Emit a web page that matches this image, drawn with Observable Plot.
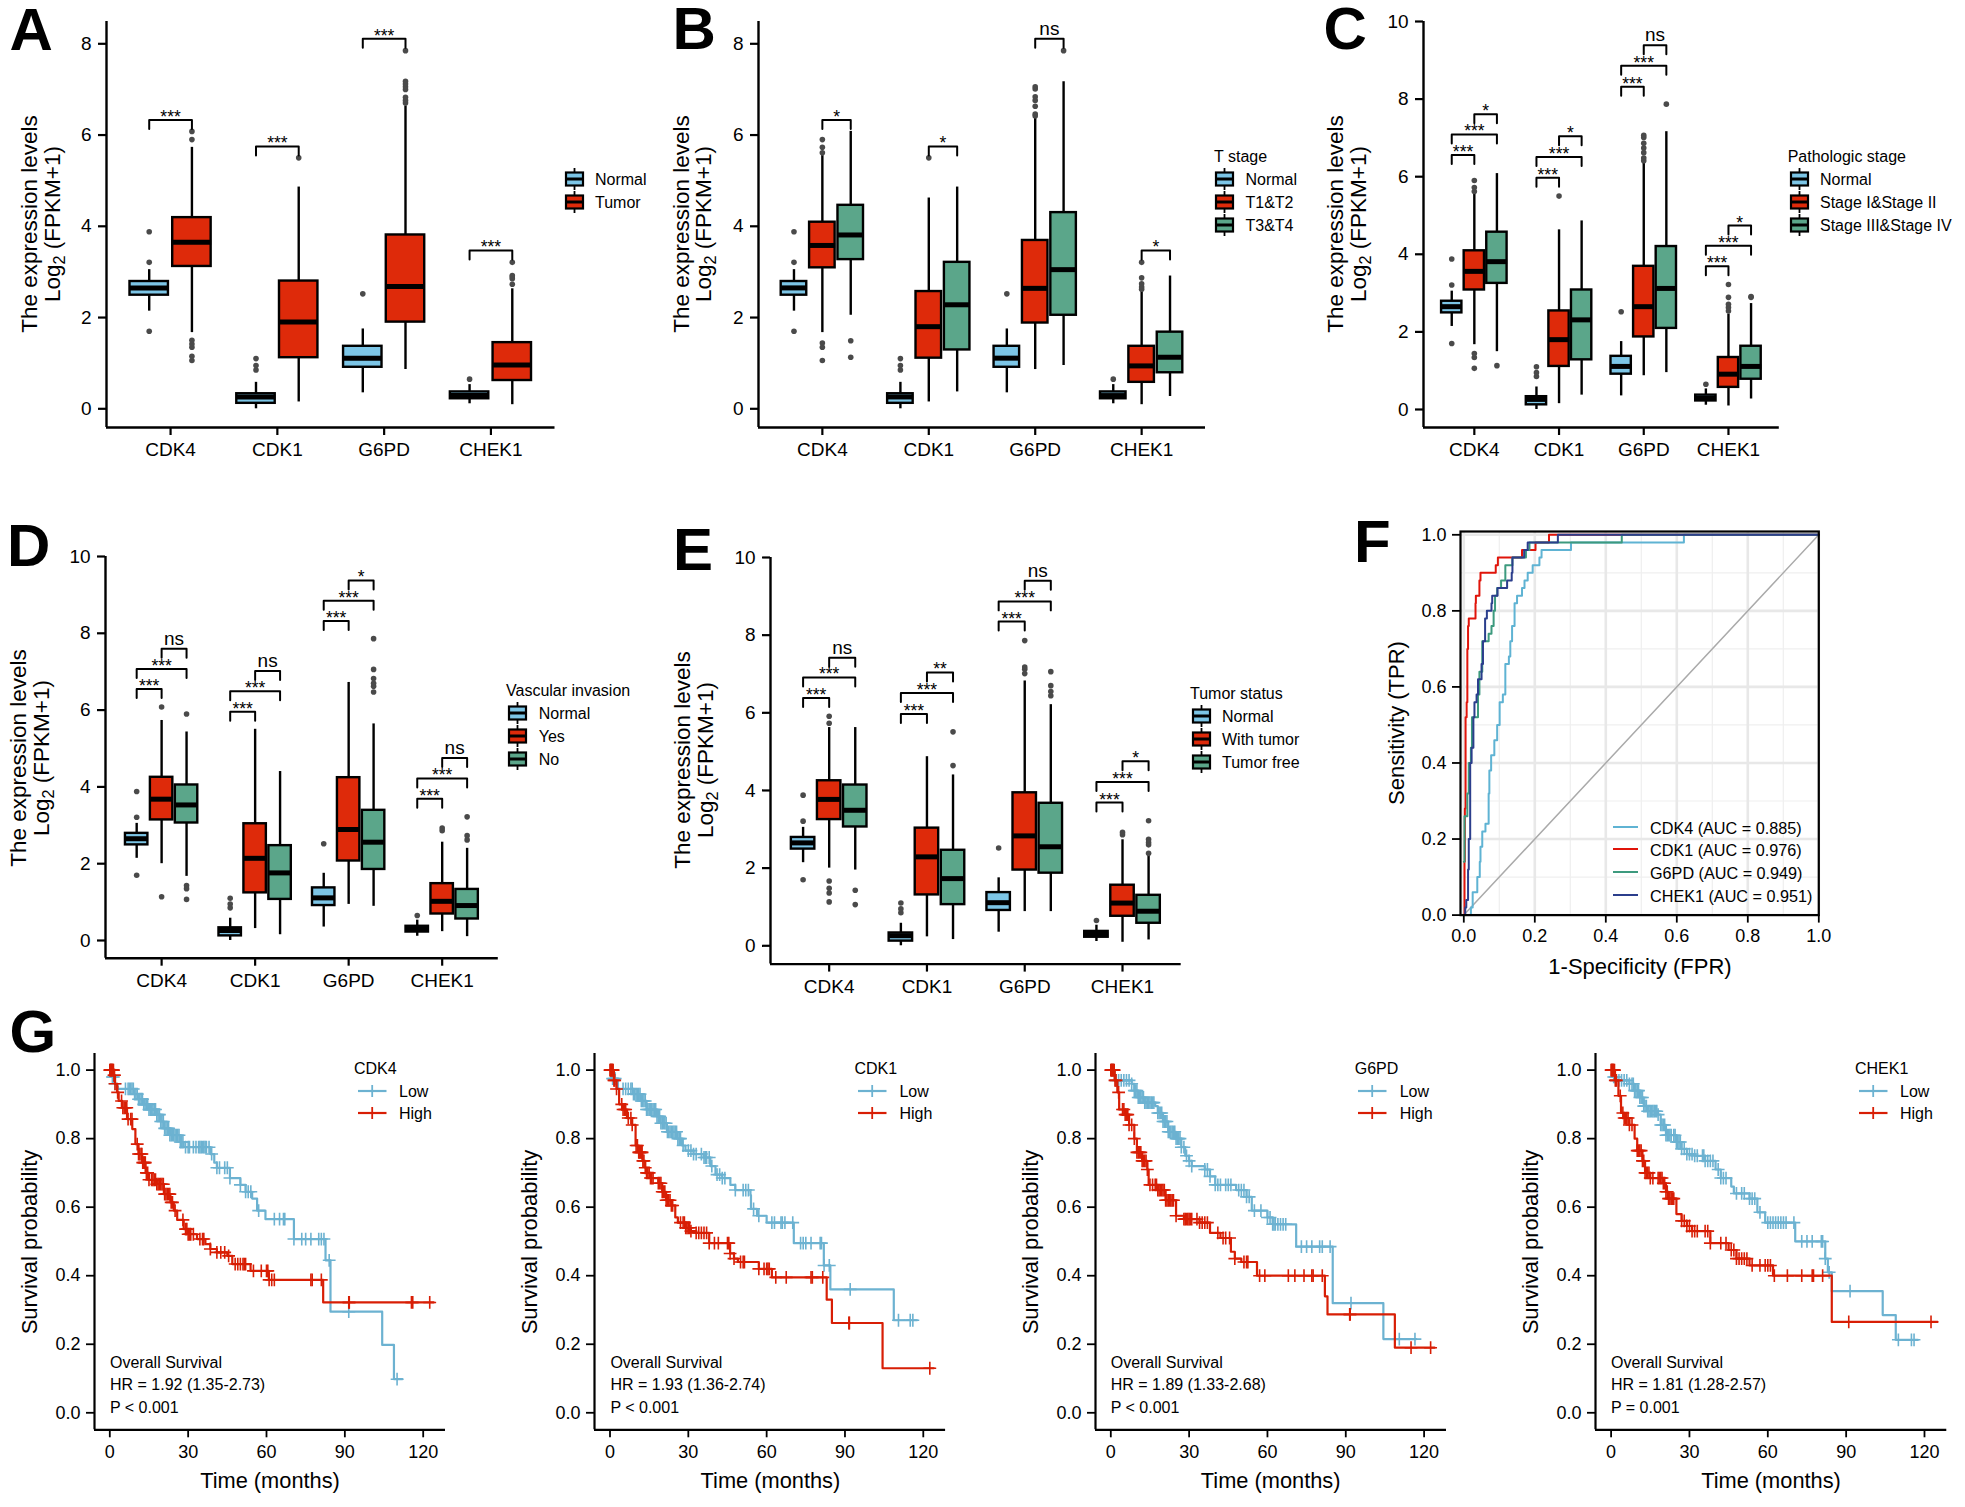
<!DOCTYPE html>
<html><head><meta charset="utf-8">
<style>
html,body{margin:0;padding:0;background:#fff;}
#page{position:relative;width:1965px;height:1507px;overflow:hidden;font-family:"Liberation Sans",Arial,sans-serif;color:#000;}
.t{position:absolute;white-space:nowrap;line-height:1;}
.abs{position:absolute;}
sub.s{font-size:.72em;vertical-align:baseline;position:relative;top:.3em;}
</style>
<script src="https://cdn.jsdelivr.net/npm/d3@7"></script>
<script src="https://cdn.jsdelivr.net/npm/@observablehq/plot@0.6"></script>
</head><body><div id="page"></div>
<script>
const genes=["CDK4","CDK1","G6PD","CHEK1"];
// box rows: [low whisker, q1, median, q3, high whisker], one row per gene
const boxNormal=[[2.14,2.49,2.65,2.79,3.05],[0,.12,.26,.33,.58],[.35,.91,1.11,1.37,1.75],[.11,.22,.29,.37,.53]];
const outNormal=[[1.70,3.21,3.88],[.85,.95,1.10],[2.52],[.65]];
// A
const boxTumor=[[1.67,3.12,3.65,4.19,5.73],[.15,1.12,1.90,2.80,4.86],[.86,1.90,2.68,3.81,6.63],[.09,.62,.96,1.45,2.63]];
const outTumor=[[1.06,1.15,1.35,1.42,1.5,5.90,6.08],[5.5],[6.7,6.76,6.83,7.0,7.06,7.12,7.18,7.85],[2.73,2.85,2.89,2.92,3.21]];
const brA=[[0,0,1,6.33,"***"],[1,0,1,5.75,"***"],[2,0,1,8.11,"***"],[3,0,1,3.47,"***"]];
// B
const boxT12=[[1.67,3.09,3.58,4.09,5.55],[.15,1.11,1.80,2.57,4.62],[.86,1.88,2.64,3.69,6.39],[.09,.58,.94,1.37,2.56]];
const outT12=[[1.06,1.35,1.44,5.61,5.73,5.90],[5.5],[6.42,6.46,6.63,6.76,6.84,7.01,7.06],[2.62,2.67,2.74,2.87,3.21]];
const boxT34=[[2.05,3.27,3.81,4.46,6.08],[.37,1.29,2.28,3.21,4.86],[.95,2.05,3.05,4.30,7.17],[.27,.79,1.13,1.68,2.91]];
const outT34=[[1.13,1.49],[],[7.85],[]];
const brB=[[0,1,2,6.33,"*"],[1,1,2,5.75,"*"],[2,1,2,8.11,"ns"],[3,1,2,3.47,"*"]];
// C
const boxS12=[[1.67,3.08,3.56,4.09,5.59],[.15,1.11,1.80,2.54,4.63],[.87,1.87,2.65,3.69,6.37],[.09,.57,.91,1.34,2.46]];
const outS12=[[1.06,1.34,1.44,5.62,5.72,5.90],[5.5],[6.41,6.48,6.62,6.74,6.86,7.01,7.07],[2.54,2.63,2.71,2.89,3.22]];
const boxS34=[[1.49,3.25,3.81,4.57,6.08],[.37,1.28,2.31,3.08,4.86],[.95,2.09,3.12,4.20,7.16],[.27,.78,1.11,1.63,2.73]];
const outS34=[[1.13],[],[7.87],[2.89,2.91]];
const brC=[[0,0,1,6.56,"***"],[0,0,2,7.09,"***"],[0,1,2,7.61,"*"],[1,0,1,5.97,"***"],[1,0,2,6.51,"***"],[1,1,2,7.04,"*"],[2,0,1,8.32,"***"],[2,0,2,8.86,"***"],[2,1,2,9.39,"ns"],[3,0,1,3.69,"***"],[3,0,2,4.22,"***"],[3,1,2,4.74,"*"]];
// D
const boxYes=[[2.0,3.14,3.68,4.25,5.73],[.31,1.24,2.14,3.04,5.50],[.94,2.07,2.89,4.24,6.72],[.23,.69,1.02,1.48,2.56]];
const outYes=[[1.14,6.08],[],[],[2.86,2.93]];
const boxNo=[[1.67,3.06,3.53,4.05,5.43],[.15,1.07,1.76,2.47,4.40],[.89,1.85,2.56,3.39,5.64],[.10,.56,.91,1.33,2.40]];
const outNo=[[1.07,1.35,1.43,5.90],[],[6.47,6.62,6.70,6.82,7.06,7.86],[2.62,2.73,3.22]];
const brD=[[0,0,1,6.55,"***"],[0,0,2,7.07,"***"],[0,1,2,7.60,"ns"],[1,0,1,5.96,"***"],[1,0,2,6.49,"***"],[1,1,2,7.02,"ns"],[2,0,1,8.32,"***"],[2,0,2,8.85,"***"],[2,1,2,9.375,"*"],[3,0,1,3.69,"***"],[3,0,2,4.22,"***"],[3,1,2,4.75,"ns"]];
// E
const boxWith=[[2.0,3.25,3.77,4.25,5.62],[.23,1.31,2.29,3.03,4.87],[.88,1.95,2.83,3.94,6.82],[.09,.76,1.10,1.56,2.73]];
const outWith=[[1.13,1.36,1.48,1.67,5.73,5.91],[],[7.01,7.12,7.18,7.86],[2.86,2.92]];
const boxFree=[[1.95,3.06,3.49,4.14,5.62],[.16,1.06,1.73,2.46,4.40],[.88,1.87,2.55,3.67,6.21],[.15,.58,.89,1.30,2.36]];
const outFree=[[1.06,1.43],[4.64,5.51],[6.44,6.55,6.70,7.06],[2.38,2.60,2.66,2.74,3.22]];
const brE=[[0,0,1,6.38,"***"],[0,0,2,6.91,"***"],[0,1,2,7.42,"ns"],[1,0,1,5.97,"***"],[1,0,2,6.51,"***"],[1,1,2,7.04,"**"],[2,0,1,8.35,"***"],[2,0,2,8.87,"***"],[2,1,2,9.40,"ns"],[3,0,1,3.69,"***"],[3,0,2,4.22,"***"],[3,1,2,4.75,"*"]];
// F: ROC curves, [FPR, TPR]
const rocCDK4=[[.014,0],[.02,.02],[.025,.06],[.038,.10],[.045,.14],[.047,.18],[.052,.22],[.061,.24],[.07,.32],[.072,.38],[.077,.42],[.086,.46],[.094,.50],[.101,.56],[.11,.58],[.117,.66],[.127,.68],[.131,.72],[.136,.76],[.143,.82],[.15,.84],[.164,.86],[.171,.88],[.18,.90],[.194,.92],[.213,.94],[.219,.96],[.302,.98],[.62,1],[1,1]];
const rocCDK1=[[0,0],[.002,.14],[.003,.28],[.005,.52],[.008,.56],[.01,.70],[.012,.76],[.014,.78],[.033,.82],[.034,.84],[.044,.88],[.047,.90],[.09,.92],[.096,.94],[.164,.96],[.202,.98],[.24,1],[1,1]];
const rocG6PD=[[0,.14],[.002,.26],[.01,.32],[.014,.40],[.02,.44],[.023,.52],[.04,.58],[.044,.64],[.052,.72],[.07,.74],[.078,.76],[.084,.80],[.088,.84],[.094,.86],[.105,.88],[.117,.92],[.137,.94],[.175,.96],[.185,.98],[.445,1],[1,1]];
const rocCHEK1=[[0,0],[.004,.02],[.007,.04],[.012,.12],[.014,.20],[.018,.40],[.022,.44],[.027,.52],[.03,.56],[.036,.58],[.04,.62],[.05,.66],[.054,.72],[.06,.78],[.065,.80],[.078,.82],[.08,.84],[.095,.86],[.122,.88],[.135,.90],[.137,.94],[.17,.96],[.18,.98],[.265,1],[1,1]];
const rocNames=["CDK4 (AUC = 0.885)","CDK1 (AUC = 0.976)","G6PD (AUC = 0.949)","CHEK1 (AUC = 0.951)"];
// G: survival steps [months, probability] and censoring times
const kmCDK4Low=[[0,1],[1,.98],[2,.96],[3,.945],[9.2,.93],[11,.915],[13,.90],[15,.885],[18,.87],[19.5,.85],[20.7,.83],[23,.81],[27,.79],[28.3,.775],[38.5,.755],[40,.73],[41,.715],[46,.685],[50,.665],[52,.645],[54.5,.625],[56.4,.59],[59.6,.565],[70.5,.507],[82.6,.445],[84.5,.295],[104.3,.198],[108.8,.098],[112,.098]];
const cenCDK4Low=[.3,.6,1,1.4,2,6,7,7.5,8,8.5,9,9.5,10,10.5,11,11.5,12,12.5,13,13.5,14,14.5,15,15.5,16,16.5,17,17.5,18,18.5,19,19.5,20,20.5,21,21.5,22,22.5,23,23.5,24,24.5,25,25.5,26,26.5,27,27.5,28,29,30,30.5,32,33,34,34.5,35,35.5,36,36.5,37,38,39,41,42,44,45,46,50,52,53,54,57,63,65,66.5,67,70.5,73.5,75,77,80,81,82,84,91.5,110];
const kmCDK4High=[[0,1],[1.5,.985],[2,.96],[2.8,.935],[3.4,.91],[4.7,.89],[6.6,.857],[8.6,.828],[9.8,.784],[11,.755],[12.4,.73],[13.7,.70],[15,.68],[18,.667],[20.7,.638],[23.2,.614],[24.5,.59],[25.8,.563],[28.3,.536],[30,.521],[33.4,.507],[36.6,.492],[38.5,.478],[41,.468],[45,.458],[46.9,.434],[53.9,.414],[60.9,.388],[81.7,.322],[124,.322]];
const cenCDK4High=[0,.2,.4,.6,.8,1,1.2,1.4,1.6,1.8,2,3,4.5,5,5.5,6,6.5,7,8,8.5,10.5,11,11.5,12,12.3,12.6,13,13.3,13.6,14,14.5,15,16,16.5,17,17.5,18,18.5,19,19.5,20,20.5,21,21.5,22,22.5,23,23.5,24,25,28,29,29.5,30,30.5,31,32,34.5,35.5,36,38.5,41,42.5,44,45.5,48,49,50,51,51.5,52,55,58,60,60.5,61,62,63,77,77.5,81,91.5,91.7,115.5,116,122.5];
const kmCDK1Low=[[0,1],[.5,.975],[3,.945],[9,.93],[11.6,.91],[14,.885],[18,.865],[19.3,.845],[21.8,.82],[25.7,.80],[27.6,.78],[28.9,.765],[32,.755],[35.9,.745],[38.4,.72],[40.4,.695],[43,.685],[46.1,.665],[48,.65],[53.8,.635],[54,.595],[56.3,.575],[60,.555],[70.4,.495],[81.9,.43],[84.4,.36],[108.7,.27],[117.6,.27]];
const cenCDK1Low=[.3,1,1.5,2,5,6,7,8,8.5,9,9.5,10,10.5,11,11.5,12,12.5,13,13.5,14,14.5,15,15.5,16,16.5,17,17.5,18,18.5,19,19.5,20,20.5,21,21.5,22,22.5,23,23.5,24,24.5,25,25.5,26,26.5,27,28,30,31,32,33,35,36,36.5,37,38,39,41,42,43,44,48,51,52,53,55,57,62,63,65.5,66,67,70,73,74,75,77,80.5,81,82,84,92,110.5,115,116];
const kmCDK1High=[[0,1],[1.5,.97],[2.5,.945],[3.5,.90],[5,.885],[6.5,.86],[8.5,.84],[9.8,.78],[11,.76],[12.4,.735],[13.5,.715],[14,.70],[15.5,.685],[18.5,.67],[20,.645],[21.5,.62],[23.5,.605],[25,.57],[26,.555],[29,.54],[31,.53],[33,.525],[38,.495],[46,.465],[47.5,.45],[49,.44],[57,.42],[62,.395],[83,.33],[85,.262],[104.4,.13],[124,.13]];
const cenCDK1High=[0,.2,.4,.6,.8,1,1.2,1.5,1.8,2.5,4.5,5,5.5,6,7,8,8.5,10,10.5,11,11.3,11.6,12,12.3,12.6,13,13.5,14,14.5,15,15.5,16,16.5,18.5,19,19.5,20,20.5,21,21.5,22,22.5,23,23.5,24,27,28,28.5,29,29.5,30,30.5,31,33,34,35,36,37,38,40,41.5,45,45.5,46,47.5,50,51,51.5,57,59,60,60.5,61,63.5,67.5,77,77.5,81.5,91.5,91.7,122.5];
const kmG6PDLow=[[0,1],[1.5,.97],[8,.96],[9,.94],[10.5,.92],[13,.905],[17,.895],[18,.875],[20,.85],[22,.82],[25,.80],[27,.775],[28.5,.75],[30,.735],[31,.72],[36,.71],[38,.69],[40,.665],[48,.65],[52,.63],[54,.59],[60,.57],[62,.55],[71,.485],[85,.32],[104.4,.215],[117,.215]];
const cenG6PDLow=[.3,1,2,3,4,5,6,7,8,9,9.5,10,10.5,11,11.5,12,12.5,13,13.5,14,14.5,15,15.5,16,16.5,18,18.5,19,19.5,20,20.5,21,21.5,22,22.5,23,23.5,24,24.5,25,25.5,26,26.5,27,28,29,30,31,36,37,38,40,41,42,44,45,46,49,50,51,52,53,55,57.5,60,61,62,62.5,63,64,65,66,67,73,75,77,80,81,84,92,110.5,116.5];
const kmG6PDHigh=[[0,1],[1.5,.97],[2.5,.935],[3.2,.885],[5.5,.87],[7,.84],[9,.80],[10,.76],[12,.735],[14,.71],[14.5,.665],[18,.65],[21,.62],[25,.575],[28,.565],[34,.555],[38,.525],[42,.51],[46,.47],[47.5,.45],[50,.44],[56,.40],[82,.34],[83,.287],[108.8,.19],[124,.19]];
const cenG6PDHigh=[0,.2,.4,.6,.8,1,1.3,1.6,2,3,4.5,5,5.5,6,6.5,7,8,9,10,10.5,11,11.5,12,12.5,13,13.5,14,15,16,17,17.5,18,18.5,19,19.5,20,20.5,21,21.5,22,22.5,23,23.5,24,25,28,28.5,29,29.5,30,30.5,31,33,34,35,36,37,41,43,44,45.5,47.5,51,52,52.5,57,59,68,70.5,74,77,77.5,81,91.5,91.7,115,122.5];
const kmCHEK1Low=[[0,1],[.5,.98],[2,.97],[7,.96],[9,.94],[11,.92],[12.5,.895],[14,.88],[18,.87],[19,.84],[21,.81],[25,.79],[27,.77],[29,.755],[32,.75],[36,.735],[40,.71],[42,.685],[46,.66],[47,.64],[53,.625],[56,.585],[59,.555],[70.5,.50],[82,.45],[83,.41],[84.5,.355],[104,.285],[109,.213],[117.5,.213]];
const cenCHEK1Low=[.3,1,1.5,2,3,4,5,6,7,8,8.5,9,9.5,10,10.5,11,11.5,12,12.5,13,13.5,14,14.5,15,15.5,16,16.5,17,17.5,18,19,19.5,20,20.5,21,21.5,22,22.5,23,24,24.5,25,25.5,26,26.5,27,28,29,30,31,32,33,35,35.5,36,37,38,39,41,42,43,44,48,50,51,53,54,55,57,60,61,62,63,64,65,66,67,70,73,75,77,80.5,81,82,83.5,91.5,110,115,116];
const kmCHEK1High=[[0,1],[1.5,.97],[2.8,.925],[3.8,.875],[5,.86],[7,.84],[9,.80],[10,.765],[12,.735],[13,.70],[15,.685],[20,.67],[21,.645],[22,.625],[25,.58],[27,.56],[29,.545],[31,.53],[38,.495],[45,.475],[48,.45],[53,.43],[62,.40],[84.5,.265],[125,.265]];
const cenCHEK1High=[0,.2,.4,.6,.8,1,1.3,1.6,2,3.5,4.5,5,5.5,6,6.5,7,8,10,10.5,11,11.5,12,12.5,13,13.5,14,14.5,15,16,18,18.5,19,19.5,20,20.5,21,21.5,22,22.5,23,23.5,24,27,28,29,30,31,32,33,36,37,38,42,44,46,47,48,49,50,51,52,54,57,59,60,61,62.5,67.5,73,77,77.5,81,91,122.5];

const FONT='"Liberation Sans",Arial,sans-serif';
const BLUE="#7cc5e6",RED="#de2a0a",GREEN="#5ba68a";
const KMB="#6cb2d1",KMR="#d81e05";
const page=document.getElementById("page");
function txt(html,x,y,size,opts={}){
  const d=document.createElement("div");d.className="t";d.innerHTML=html;
  d.style.left=x+"px";d.style.top=(y+1)+"px";d.style.fontSize=size+"px";
  if(opts.weight)d.style.fontWeight=opts.weight;
  d.style.transform=opts.rotate?"translate(-50%,-50%) rotate(-90deg)":(opts.center?"translate(-50%,-50%)":"translateY(-50%)");
  page.appendChild(d);return d;
}
function place(plot,left,top){const w=document.createElement("div");w.className="abs";w.style.left=left+"px";w.style.top=top+"px";w.appendChild(plot);page.appendChild(w);}
function letter(s,x,baseline){txt(s,x,baseline-1-.3465*60,60,{weight:"bold"});}
function svgKey(inner,x,y,w,h){const d=document.createElement("div");d.className="abs";d.style.left=x+"px";d.style.top=(y-h/2)+"px";d.innerHTML=`<svg width="${w}" height="${h}" style="display:block;overflow:visible">${inner}</svg>`;page.appendChild(d);}
function boxKey(color,x,y){svgKey(`<line x1="9.5" x2="9.5" y1="0" y2="22" stroke="#000" stroke-width="1.8"/><rect x="1" y="4.5" width="17" height="13" fill="${color}" stroke="#000" stroke-width="2.2"/><line x1="1" x2="18" y1="11" y2="11" stroke="#000" stroke-width="3"/>`,x,y,19,22);}
function kmKey(color,x,y){svgKey(`<line x1="0" x2="28.5" y1="6" y2="6" stroke="${color}" stroke-width="2.2"/><line x1="14.2" x2="14.2" y1="0" y2="12" stroke="${color}" stroke-width="1.8"/>`,x,y,29,12);}

const mL=75,mR=12,mT=12,mB=56;
function boxPanel(c){
  const ppu=(c.y0-c.yTopPx)/c.yTopVal;
  const dom=[-(c.B-c.y0)/ppu,(c.y0-c.T)/ppu];
  const n=c.boxes.length,step=.8/n,bw=.9*step;
  const cx=(g,j)=>g+(j-(n-1)/2)*step;
  const rows=[],outs=[];
  c.boxes.forEach((b,j)=>b.forEach((r,g)=>rows.push({x:cx(g,j),x1:cx(g,j)-bw/2,x2:cx(g,j)+bw/2,lo:r[0],q1:r[1],med:r[2],q3:r[3],hi:r[4],fill:c.colors[j]})));
  c.outs.forEach((o,j)=>o.forEach((v,g)=>v.forEach(y=>outs.push({x:cx(g,j),y}))));
  const tip=9/ppu, brLines=[],brLabels=[];
  c.br.forEach((b,i)=>{const a=cx(b[0],b[1]),e=cx(b[0],b[2]);
    [[a,b[3]-tip],[a,b[3]],[e,b[3]],[e,b[3]-tip]].forEach(p=>brLines.push({id:i,x:p[0],y:p[1]}));
    brLabels.push({x:(a+e)/2,y:b[3],label:b[4]});});
  const plot=Plot.plot({
    width:c.R-c.L+mL+mR,height:c.B-c.T+mT+mB,marginLeft:mL,marginRight:mR,marginTop:mT,marginBottom:mB,
    style:{fontFamily:FONT,fontSize:"19px",background:"transparent",overflow:"visible",maxWidth:"none",color:"#000"},
    x:{domain:[-.6,3.6]},y:{domain:dom},
    marks:[
      Plot.ruleX(rows,{x:"x",y1:"lo",y2:"hi",stroke:"#000",strokeWidth:2.4}),
      Plot.rect(rows,{x1:"x1",x2:"x2",y1:"q1",y2:"q3",fill:"fill",stroke:"#000",strokeWidth:2.4}),
      Plot.link(rows,{x1:"x1",x2:"x2",y1:"med",y2:"med",stroke:"#000",strokeWidth:5}),
      Plot.dot(outs,{x:"x",y:"y",r:2.8,fill:"#4a4a4a"}),
      Plot.line(brLines,{x:"x",y:"y",z:"id",stroke:"#000",strokeWidth:2,curve:"linear"}),
      Plot.text(brLabels.filter(d=>d.label!=="ns"),{x:"x",y:"y",text:"label",fontSize:17.5,lineAnchor:"bottom",dy:3}),
      Plot.text(brLabels.filter(d=>d.label==="ns"),{x:"x",y:"y",text:"label",fontSize:19,lineAnchor:"bottom",dy:-4}),
      Plot.ruleX([-.6],{strokeWidth:2.4}),
      Plot.ruleY([dom[0]],{strokeWidth:2.4}),
      Plot.axisY({ticks:c.ticks,tickSize:8,tickPadding:7,strokeWidth:2.2,tickFormat:d=>String(d),label:null}),
      Plot.axisX({ticks:[0,1,2,3],tickSize:8,tickPadding:7,strokeWidth:2.2,tickFormat:i=>genes[i],label:null})
    ]});
  place(plot,c.L-mL,c.T-mT);
  txt("The expression levels",c.tx1,c.ty,22.5,{rotate:true});
  txt('Log<sub class="s">2</sub> (FPKM+1)',c.tx2,c.ty,22.5,{rotate:true});
  if(c.title)txt(c.title,c.titleX,c.keysY[0]-23,16);
  c.names.forEach((nm,j)=>{boxKey(c.colors[j],c.keyX,c.keysY[j]);txt(nm,c.textX,c.keysY[j],16);});
}
const T8=[0,2,4,6,8],T10=[0,2,4,6,8,10];
boxPanel({L:106,R:554.5,T:21,B:427,y0:408.3,yTopPx:43.3,yTopVal:8,ticks:T8,boxes:[boxNormal,boxTumor],outs:[outNormal,outTumor],colors:[BLUE,RED],br:brA,tx1:30,tx2:53,ty:223,names:["Normal","Tumor"],keyX:565,keysY:[179,202],textX:595});
boxPanel({L:757.7,R:1204.7,T:21,B:427,y0:408.3,yTopPx:43.3,yTopVal:8,ticks:T8,boxes:[boxNormal,boxT12,boxT34],outs:[outNormal,outT12,outT34],colors:[BLUE,RED,GREEN],br:brB,tx1:681.6,tx2:704,ty:223,title:"T stage",titleX:1214,names:["Normal","T1&amp;T2","T3&amp;T4"],keyX:1215,keysY:[179,202,225],textX:1245.5});
boxPanel({L:1423.4,R:1779.2,T:20.7,B:426.7,y0:408.7,yTopPx:20.7,yTopVal:10,ticks:T10,boxes:[boxNormal,boxS12,boxS34],outs:[outNormal,outS12,outS34],colors:[BLUE,RED,GREEN],br:brC,tx1:1336,tx2:1359.4,ty:223,title:"Pathologic stage",titleX:1787.7,names:["Normal","Stage I&amp;Stage II","Stage III&amp;Stage IV"],keyX:1790,keysY:[179,202,225],textX:1820});
boxPanel({L:105.2,R:498,T:556,B:957.7,y0:940,yTopPx:556,yTopVal:10,ticks:T10,boxes:[boxNormal,boxYes,boxNo],outs:[outNormal,outYes,outNo],colors:[BLUE,RED,GREEN],br:brD,tx1:19,tx2:42,ty:757,title:"Vascular invasion",titleX:506,names:["Normal","Yes","No"],keyX:508,keysY:[713,736,759],textX:538.7});
boxPanel({L:770.3,R:1181,T:556.7,B:963.3,y0:945,yTopPx:556.7,yTopVal:10,ticks:T10,boxes:[boxNormal,boxWith,boxFree],outs:[outNormal,outWith,outFree],colors:[BLUE,RED,GREEN],br:brE,tx1:683,tx2:706,ty:759,title:"Tumor status",titleX:1190,names:["Normal","With tumor","Tumor free"],keyX:1191.5,keysY:[715.7,738.7,761.7],textX:1222});

// ROC panel
(function(){
  const L=1460,R=1818.3,T=530.7,B=914.3,x0=1463.3,ppx=355,ppy=380.3;
  const cols=["#5fb3d3","#e0140a","#3d9a7e","#2b3e8c"];
  const curves=[rocCDK4,rocCDK1,rocG6PD,rocCHEK1];
  const minor=[.1,.3,.5,.7,.9],major=[0,.2,.4,.6,.8,1];
  const plot=Plot.plot({
    width:R-L+mL+mR,height:B-T+mT+mB,marginLeft:mL,marginRight:mR,marginTop:mT,marginBottom:mB,
    style:{fontFamily:FONT,fontSize:"18px",background:"transparent",overflow:"visible",maxWidth:"none",color:"#000"},
    x:{domain:[(L-x0)/ppx,1]},y:{domain:[0,(B-T)/ppy]},
    marks:[
      Plot.ruleX(minor,{stroke:"#efefef",strokeWidth:1.2}),
      Plot.ruleY(minor,{stroke:"#efefef",strokeWidth:1.2}),
      Plot.ruleX(major,{stroke:"#e8e8e8",strokeWidth:2.6}),
      Plot.ruleY(major,{stroke:"#e8e8e8",strokeWidth:2.6}),
      Plot.line([[0,0],[1,1]],{x:d=>d[0],y:d=>d[1],stroke:"#aaa",strokeWidth:1.5}),
      ...curves.map((c,i)=>Plot.line(c,{x:d=>d[0],y:d=>d[1],stroke:cols[i],strokeWidth:2,curve:"step-after"})),
      Plot.frame({stroke:"#000",strokeWidth:2.2}),
      Plot.axisY({ticks:major,tickSize:8,tickPadding:6,strokeWidth:1.8,tickFormat:d3.format(".1f"),label:null}),
      Plot.axisX({ticks:major,tickSize:8,tickPadding:6,strokeWidth:1.8,tickFormat:d3.format(".1f"),label:null})
    ]});
  place(plot,L-mL,T-mT);
  txt("1-Specificity (FPR)",1640,966,22,{center:true});
  txt("Sensitivity (TPR)",1396.7,721.7,22,{rotate:true});
  [826.7,849.3,872.3,895.3].forEach((y,i)=>{
    svgKey(`<line x1="0" x2="25" y1="1" y2="1" stroke="${cols[i]}" stroke-width="2"/>`,1612.7,y,25,2);
    txt(rocNames[i],1650,y,16.2);
  });
})();

// Survival panels
function survivalAt(steps,t){let s=steps[0][1];for(const p of steps){if(p[0]<=t)s=p[1];else break;}return s;}
function kmPanel(c){
  const T=1052.7,B=1429,y0=1412,ppy=342.7,ppm=(c.x120-c.x0)/120;
  const low=c.lowCen.map(t=>({t,s:survivalAt(c.low,t)})),high=c.highCen.map(t=>({t,s:survivalAt(c.high,t)}));
  const plot=Plot.plot({
    width:c.R-c.L+mL+mR,height:B-T+mT+mB,marginLeft:mL,marginRight:mR,marginTop:mT,marginBottom:mB,
    style:{fontFamily:FONT,fontSize:"18px",background:"transparent",overflow:"visible",maxWidth:"none",color:"#000"},
    x:{domain:[(c.L-c.x0)/ppm,(c.R-c.x0)/ppm]},y:{domain:[-(B-y0)/ppy,(y0-T)/ppy]},
    marks:[
      Plot.line(c.low,{x:d=>d[0],y:d=>d[1],stroke:KMB,strokeWidth:2.2,curve:"step-after"}),
      Plot.dot(low,{x:"t",y:"s",symbol:"plus",r:4.2,stroke:KMB,strokeWidth:1.6}),
      Plot.line(c.high,{x:d=>d[0],y:d=>d[1],stroke:KMR,strokeWidth:2.2,curve:"step-after"}),
      Plot.dot(high,{x:"t",y:"s",symbol:"plus",r:4.2,stroke:KMR,strokeWidth:1.6}),
      Plot.ruleX([(c.L-c.x0)/ppm],{strokeWidth:2.2}),
      Plot.ruleY([-(B-y0)/ppy],{strokeWidth:2.2}),
      Plot.axisY({ticks:[0,.2,.4,.6,.8,1],tickSize:8,tickPadding:6,strokeWidth:1.8,tickFormat:d3.format(".1f"),label:null}),
      Plot.axisX({ticks:[0,30,60,90,120],tickSize:8,tickPadding:7,strokeWidth:1.8,label:null,tickFormat:d=>String(d)})
    ]});
  place(plot,c.L-mL,T-mT);
  txt("Time (months)",c.x0+160.7,1480,21.8,{center:true});
  txt("Survival probability",c.L-64,1240.5,22,{rotate:true});
  txt(c.gene,c.x0+244.7,1067.7,16);
  kmKey(KMB,c.x0+248.4,1090.7);txt("Low",c.x0+289.7,1090.7,16);
  kmKey(KMR,c.x0+248.4,1113.3);txt("High",c.x0+289.7,1113.3,16);
  txt("Overall Survival",c.x0+.7,1361.7,16);txt(c.hr,c.x0+.7,1384,16);txt(c.p,c.x0+.7,1406.7,16);
}
kmPanel({gene:"CDK4",L:94,R:445,x0:109.3,x120:422.7,low:kmCDK4Low,lowCen:cenCDK4Low,high:kmCDK4High,highCen:cenCDK4High,hr:"HR = 1.92 (1.35-2.73)",p:"P &lt; 0.001"});
kmPanel({gene:"CDK1",L:594.2,R:945.3,x0:609.7,x120:923,low:kmCDK1Low,lowCen:cenCDK1Low,high:kmCDK1High,highCen:cenCDK1High,hr:"HR = 1.93 (1.36-2.74)",p:"P &lt; 0.001"});
kmPanel({gene:"G6PD",L:1094.7,R:1445.7,x0:1110,x120:1423.3,low:kmG6PDLow,lowCen:cenG6PDLow,high:kmG6PDHigh,highCen:cenG6PDHigh,hr:"HR = 1.89 (1.33-2.68)",p:"P &lt; 0.001"});
kmPanel({gene:"CHEK1",L:1594.7,R:1946,x0:1610.3,x120:1923.7,low:kmCHEK1Low,lowCen:cenCHEK1Low,high:kmCHEK1High,highCen:cenCHEK1High,hr:"HR = 1.81 (1.28-2.57)",p:"P = 0.001"});

letter("A",9.5,51);letter("B",672.5,50);letter("C",1323.5,50);letter("D",7,566.7);letter("E",673,570.7);letter("F",1354,563);letter("G",9.5,1053);
</script></body></html>
